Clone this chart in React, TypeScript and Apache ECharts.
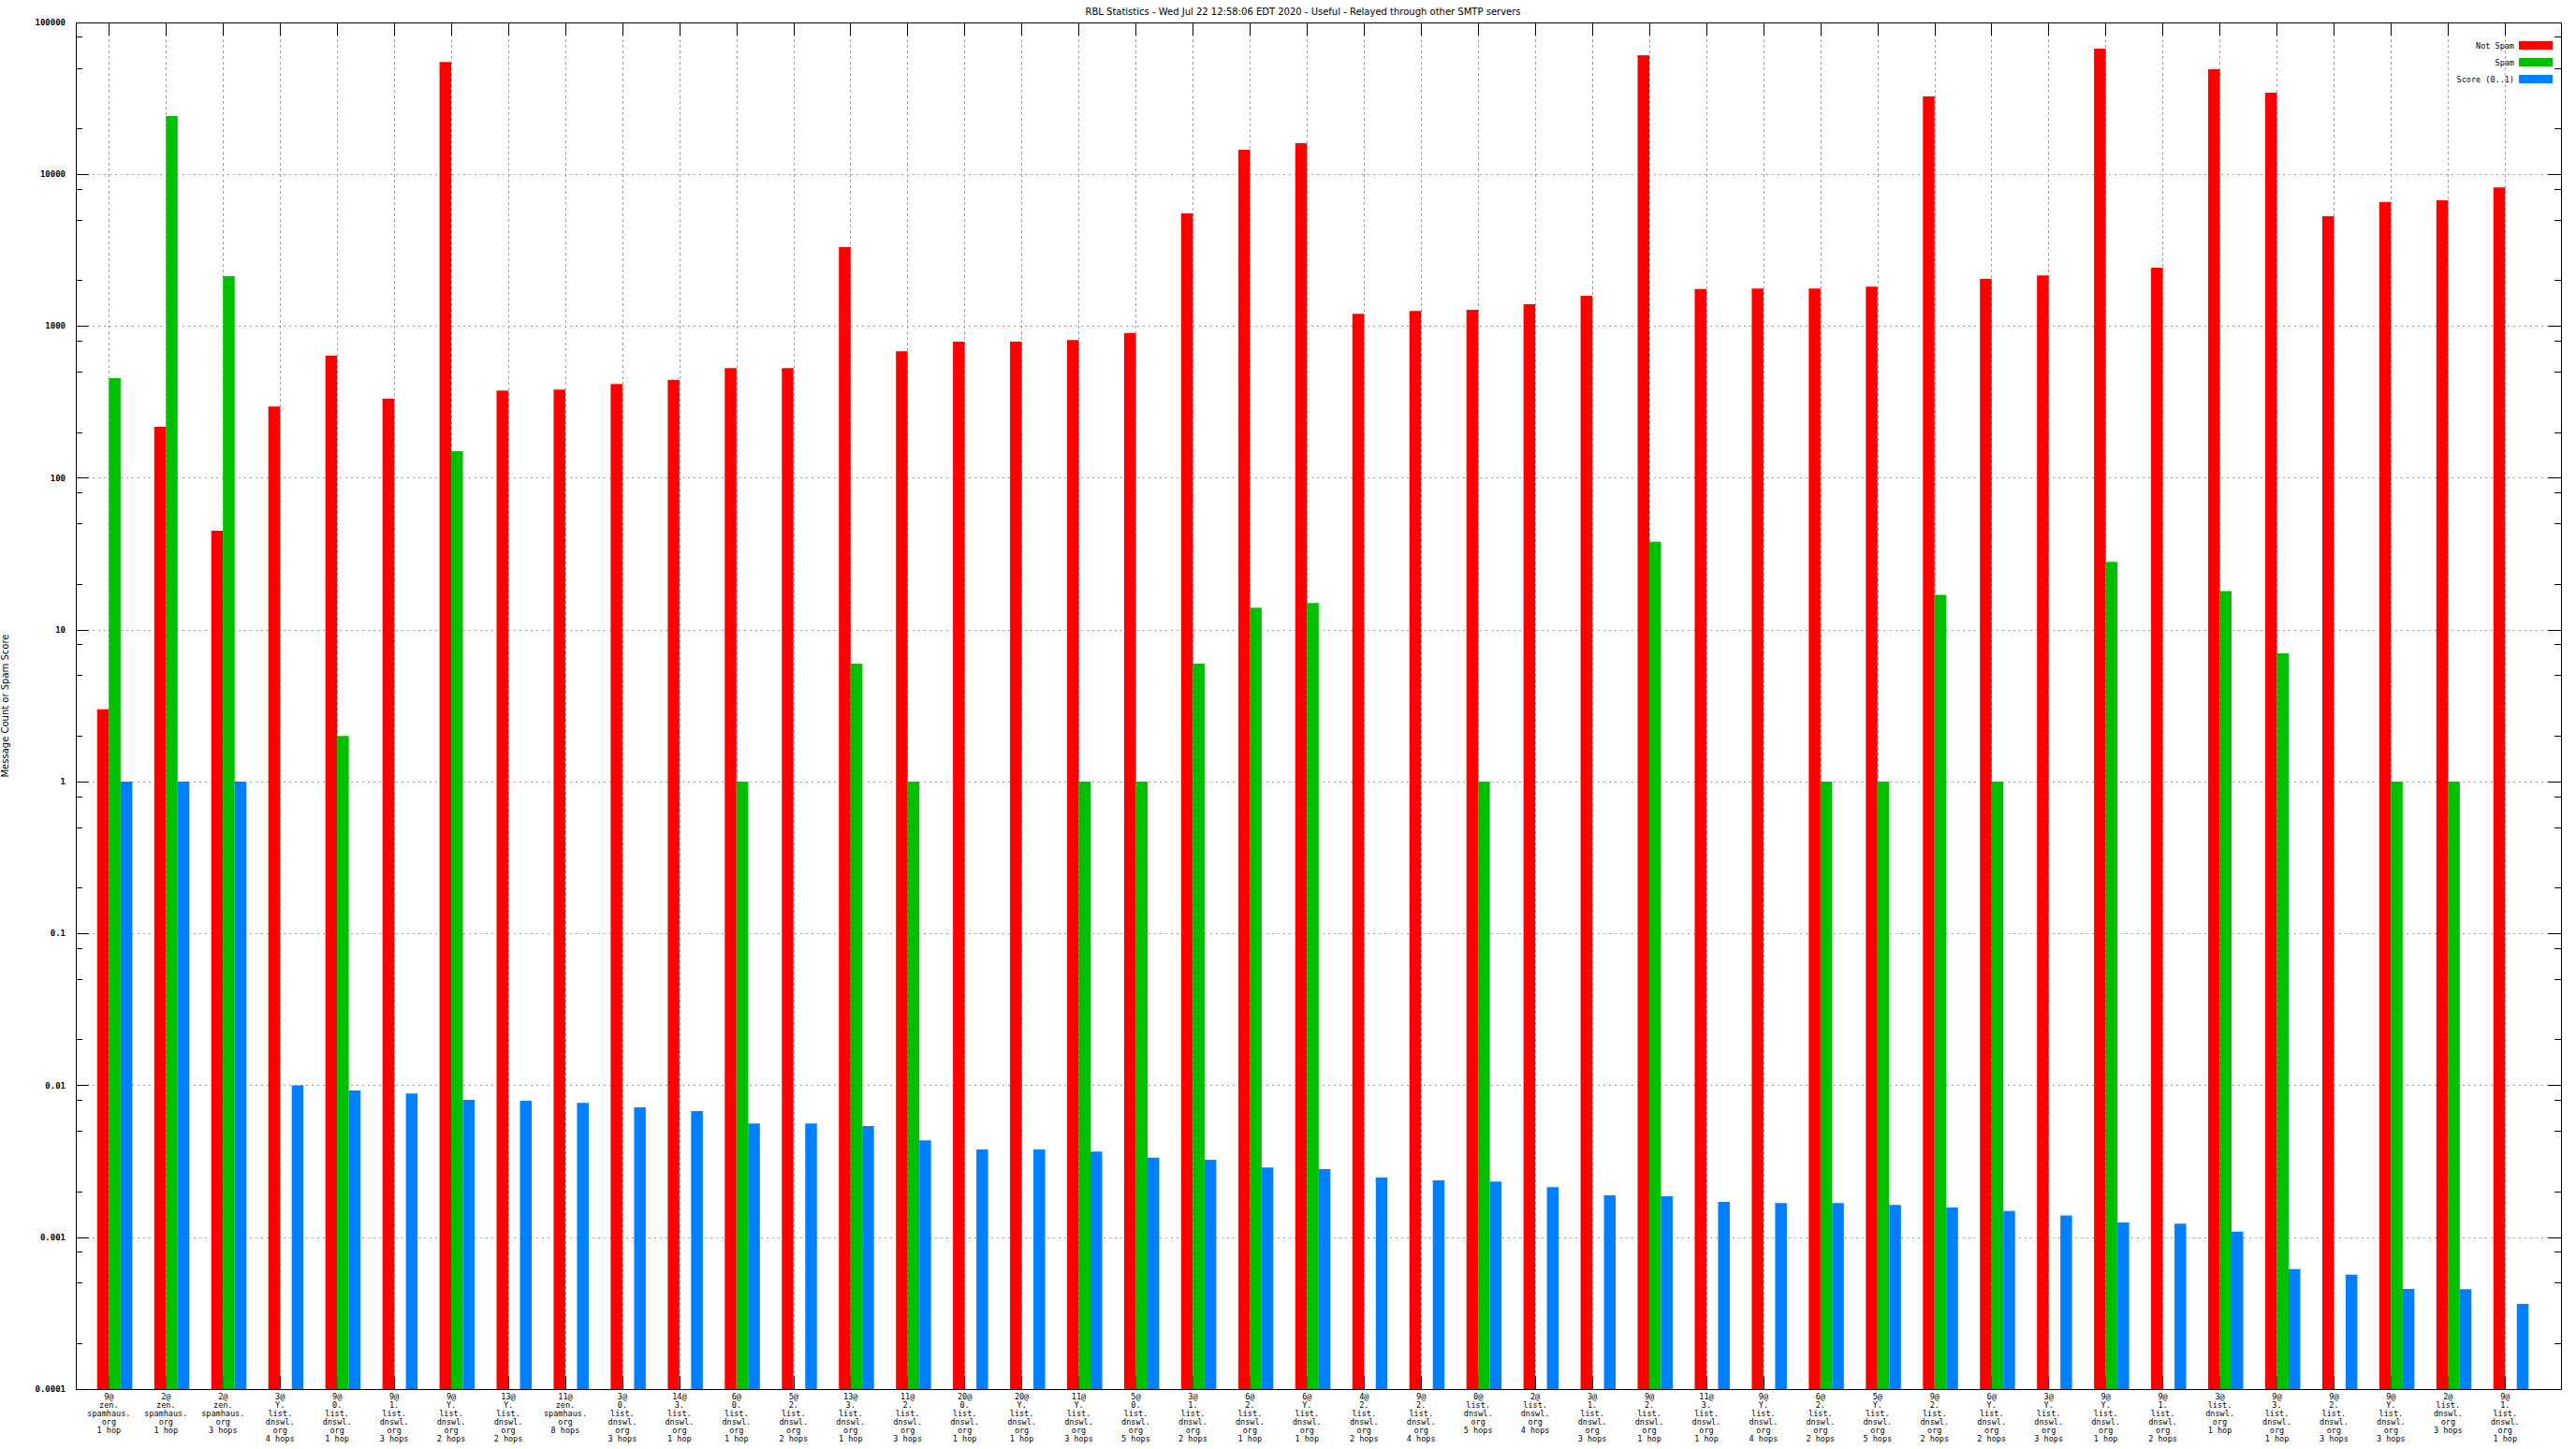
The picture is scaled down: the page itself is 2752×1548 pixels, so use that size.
import React, { useEffect, useRef } from "react";
import * as echarts from "echarts";

const TITLE = "RBL Statistics - Wed Jul 22 12:58:06 EDT 2020 - Useful - Relayed through other SMTP servers";
const Y_NAME = "Message Count or Spam Score";
const SERIES_NAMES = ["Not Spam", "Spam", "Score (0..1)"];
const COLORS = ["#ff0000", "#00c000", "#0080ff"];

const categories = [
  "9@\nzen.\nspamhaus.\norg\n1 hop",
  "2@\nzen.\nspamhaus.\norg\n1 hop",
  "2@\nzen.\nspamhaus.\norg\n3 hops",
  "3@\nY.\nlist.\ndnswl.\norg\n4 hops",
  "9@\n0.\nlist.\ndnswl.\norg\n1 hop",
  "9@\n1.\nlist.\ndnswl.\norg\n3 hops",
  "9@\nY.\nlist.\ndnswl.\norg\n2 hops",
  "13@\nY.\nlist.\ndnswl.\norg\n2 hops",
  "11@\nzen.\nspamhaus.\norg\n8 hops",
  "3@\n0.\nlist.\ndnswl.\norg\n3 hops",
  "14@\n3.\nlist.\ndnswl.\norg\n1 hop",
  "6@\n0.\nlist.\ndnswl.\norg\n1 hop",
  "5@\n2.\nlist.\ndnswl.\norg\n2 hops",
  "13@\n3.\nlist.\ndnswl.\norg\n1 hop",
  "11@\n2.\nlist.\ndnswl.\norg\n3 hops",
  "20@\n0.\nlist.\ndnswl.\norg\n1 hop",
  "20@\nY.\nlist.\ndnswl.\norg\n1 hop",
  "11@\nY.\nlist.\ndnswl.\norg\n3 hops",
  "5@\n0.\nlist.\ndnswl.\norg\n5 hops",
  "3@\n1.\nlist.\ndnswl.\norg\n2 hops",
  "6@\n2.\nlist.\ndnswl.\norg\n1 hop",
  "6@\nY.\nlist.\ndnswl.\norg\n1 hop",
  "4@\n2.\nlist.\ndnswl.\norg\n2 hops",
  "9@\n2.\nlist.\ndnswl.\norg\n4 hops",
  "0@\nlist.\ndnswl.\norg\n5 hops",
  "2@\nlist.\ndnswl.\norg\n4 hops",
  "3@\n1.\nlist.\ndnswl.\norg\n3 hops",
  "9@\n2.\nlist.\ndnswl.\norg\n1 hop",
  "11@\n3.\nlist.\ndnswl.\norg\n1 hop",
  "9@\nY.\nlist.\ndnswl.\norg\n4 hops",
  "6@\n2.\nlist.\ndnswl.\norg\n2 hops",
  "5@\nY.\nlist.\ndnswl.\norg\n5 hops",
  "9@\n2.\nlist.\ndnswl.\norg\n2 hops",
  "6@\nY.\nlist.\ndnswl.\norg\n2 hops",
  "3@\nY.\nlist.\ndnswl.\norg\n3 hops",
  "9@\nY.\nlist.\ndnswl.\norg\n1 hop",
  "9@\n1.\nlist.\ndnswl.\norg\n2 hops",
  "3@\nlist.\ndnswl.\norg\n1 hop",
  "9@\n3.\nlist.\ndnswl.\norg\n1 hop",
  "9@\n2.\nlist.\ndnswl.\norg\n3 hops",
  "9@\nY.\nlist.\ndnswl.\norg\n3 hops",
  "2@\nlist.\ndnswl.\norg\n3 hops",
  "9@\n1.\nlist.\ndnswl.\norg\n1 hop",
];

const notSpam = [
  3, 217, 45, 296, 638, 333, 54950, 376, 382, 416, 442, 530, 530, 3311, 684, 791, 791, 811, 900, 5520, 14520,
  16000, 1205, 1259, 1279, 1393, 1585, 60800, 1754, 1772, 1772, 1820, 32600, 2047, 2158, 67300, 2427, 49100,
  34500, 5295, 6565, 6730, 8205,
];

const spam: (number | null)[] = [
  454, 24150, 2135, null, 2, null, 150, null, null, null, null, 1, null, 6, 1, null, null, 1, 1, 6, 14, 15, null,
  null, 1, null, null, 38, null, null, 1, 1, 17, 1, null, 28, null, 18, 7, null, 1, 1, null,
];

const score = [
  1, 1, 1, 0.01, 0.00925, 0.00883, 0.00804, 0.00792, 0.00768, 0.00716, 0.00678, 0.00562, 0.00562, 0.0054, 0.00435,
  0.00378, 0.00378, 0.00367, 0.00334, 0.00324, 0.00288, 0.00281, 0.00247, 0.00237, 0.00233, 0.00214, 0.00189,
  0.00186, 0.00171, 0.00168, 0.00168, 0.00163, 0.00157, 0.00149, 0.00139, 0.00125, 0.00123, 0.00109, 0.000617,
  0.000567, 0.000456, 0.000455, 0.000364,
];

const yTickLabels = ["0.0001", "0.001", "0.01", "0.1", "1", "10", "100", "1000", "10000", "100000"];
const yMinorTicks: number[] = [];
for (let e = -4; e < 5; e++) {
  [2, 5, 8].forEach((m) => yMinorTicks.push(m * Math.pow(10, e)));
}

const Y_MIN = 0.0001;
const Y_MAX = 100000;
const X_MIN = -0.58;
const X_MAX = 42.98;
const BAR_FRACTION = 0.205;

const G_LEFT = 81;
const G_TOP = 24;
const G_RIGHT_X = 2736;
const G_BOTTOM_Y = 1484;

const MONO = "'DejaVu Sans Mono', monospace";
const SANS = "'DejaVu Sans', sans-serif";

function makeRender(slot: number, color: string) {
  return (params: any, api: any) => {
    const i = api.value(0);
    const v = api.value(1);
    const top = api.coord([i, v]);
    const base = api.coord([i, Y_MIN]);
    const next = api.coord([i + 1, v]);
    const w = (next[0] - top[0]) * BAR_FRACTION;
    return {
      type: "rect",
      shape: { x: top[0] + slot * w, y: top[1], width: w, height: base[1] - top[1] },
      style: { fill: color },
    };
  };
}

function toPairs(vals: (number | null)[]) {
  const out: number[][] = [];
  vals.forEach((v, i) => {
    if (v != null && v > 0) out.push([i, v]);
  });
  return out;
}

const catIdx = categories.map((_, i) => i);
const gridLine = { color: "#a0a0a0", width: 1 };
const noLine = { show: false, onZero: false };

function tickOnlyLogAxis(position: string, length: number, customValues?: number[]) {
  const tick: any = { show: true, inside: true, length, lineStyle: { color: "#000" } };
  if (customValues) tick.customValues = customValues;
  return {
    type: "log",
    logBase: 10,
    position,
    min: Y_MIN,
    max: Y_MAX,
    splitNumber: 9,
    axisLine: noLine,
    axisTick: tick,
    axisLabel: { show: false },
    splitLine: { show: false },
  };
}

export default function App() {
  const ref = useRef<HTMLDivElement>(null);
  useEffect(() => {
    document.body.style.margin = "0";
    const chart = echarts.init(ref.current!, null, { renderer: "svg" });
    const seriesVals = [notSpam, spam, score];
    const option: any = {
      animation: false,
      backgroundColor: "#ffffff",
      grid: {
        left: G_LEFT,
        top: G_TOP,
        width: G_RIGHT_X - G_LEFT,
        height: G_BOTTOM_Y - G_TOP,
        show: false,
        containLabel: false,
        outerBoundsMode: "none",
      },
      legend: {
        orient: "vertical",
        right: 25,
        top: 44,
        padding: 0,
        align: "right",
        itemWidth: 36,
        itemHeight: 9,
        itemGap: 9,
        icon: "rect",
        selectedMode: false,
        data: SERIES_NAMES,
        textStyle: { fontFamily: MONO, fontSize: 8.5, color: "#000", lineHeight: 9 },
      },
      xAxis: [
        {
          type: "value",
          position: "bottom",
          min: X_MIN,
          max: X_MAX,
          axisLine: noLine,
          axisTick: { show: true, inside: true, length: 14, customValues: catIdx, lineStyle: { color: "#000" } },
          axisLabel: {
            customValues: catIdx,
            formatter: (v: number) => categories[Math.round(v)] ?? "",
            fontFamily: MONO,
            fontSize: 8.5,
            lineHeight: 9,
            color: "#000",
            margin: 3,
          },
          splitLine: { show: true, lineStyle: { ...gridLine, type: [3, 3] } },
        },
        {
          type: "value",
          position: "top",
          min: X_MIN,
          max: X_MAX,
          axisLine: noLine,
          axisTick: { show: true, inside: true, length: 14, customValues: catIdx, lineStyle: { color: "#000" } },
          axisLabel: { show: false },
          splitLine: { show: false },
        },
      ],
      yAxis: [
        {
          type: "log",
          logBase: 10,
          position: "left",
          min: Y_MIN,
          max: Y_MAX,
          splitNumber: 9,
          name: Y_NAME,
          nameLocation: "middle",
          nameRotate: 90,
          nameGap: 71,
          nameMoveOverlap: false,
          nameTextStyle: { fontFamily: SANS, fontSize: 10, color: "#000" },
          axisLine: noLine,
          axisTick: { show: true, inside: true, length: 14, lineStyle: { color: "#000" } },
          axisLabel: {
            formatter: (v: number) => yTickLabels[Math.round(Math.log10(v)) + 4] ?? "",
            fontFamily: MONO,
            fontWeight: "bold",
            fontSize: 9,
            color: "#000",
            margin: 11,
          },
          splitLine: { show: true, lineStyle: { ...gridLine, type: [2, 4] } },
        },
        tickOnlyLogAxis("left", 7, yMinorTicks),
        tickOnlyLogAxis("right", 14),
        tickOnlyLogAxis("right", 7, yMinorTicks),
      ],
      series: SERIES_NAMES.map((name, k) => ({
        name,
        type: "custom",
        xAxisIndex: 0,
        yAxisIndex: 0,
        itemStyle: { color: COLORS[k] },
        renderItem: makeRender(k - 1, COLORS[k]),
        data: toPairs(seriesVals[k]),
        z: 2,
      })),
      graphic: [
        {
          type: "text",
          x: 1392,
          y: 12,
          style: {
            text: TITLE,
            textAlign: "center",
            textVerticalAlign: "middle",
            fontFamily: SANS,
            fontSize: 10,
            fill: "#000",
          },
        },
        {
          type: "rect",
          z: 100,
          silent: true,
          shape: { x: G_LEFT + 0.5, y: G_TOP + 0.5, width: G_RIGHT_X - G_LEFT, height: G_BOTTOM_Y - G_TOP },
          style: { fill: "none", stroke: "#000", lineWidth: 1 },
        },
      ],
    };
    chart.setOption(option);
    return () => chart.dispose();
  }, []);
  return <div ref={ref} style={{ width: 2752, height: 1548, background: "#fff" }} />;
}
